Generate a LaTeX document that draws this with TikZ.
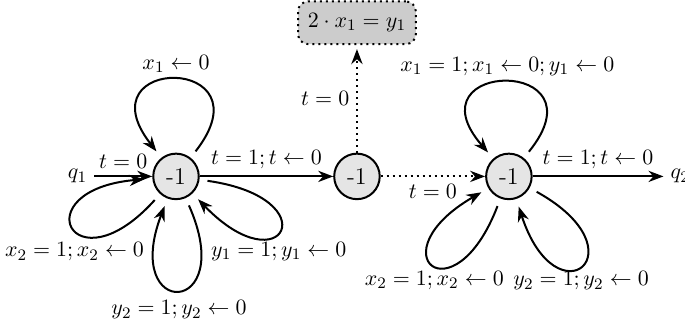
\documentclass[tikz,border=0pt]{standalone}
\usepackage{amsmath,amssymb}
\usepackage{tikz}
\usetikzlibrary{arrows.meta, positioning}

\begin{document}
\begin{tikzpicture}[>=Stealth, font=\fontsize{10.95}{13.6}\selectfont,
		state/.style={circle, draw=black, fill=black!10, line width=1pt, minimum size=0.8cm, inner sep=0pt, font=\fontsize{12}{14}\selectfont},
		guard/.style={rectangle, rounded corners=5pt, draw=black, dotted, line width=1pt, fill=black!20, minimum width=2.07cm, minimum height=0.75cm},
		selfloop/.style={->, line width=1pt, distance=2.3cm, shorten >=4pt, shorten <=4pt}]
		
		\useasboundingbox (-3.093, -2.689) rectangle (8.945, 3.1);
		
		% Estados
		\node[state] (s1) at (0, 0) {-1};
		\node[state] (s2) at (3.18, 0) {-1};
		\node[state] (s3) at (5.85, 0) {-1};
		\node (q1) at (-1.73, 0) {$q_1$};
		\node (q2) at (8.86, 0) {$q_2$};
		
		% Restricao
		\node[guard] (eq) at (3.18, 2.7) {$2 \cdot x_1 = y_1$};
		
		% Arestas
		\draw[->, line width=1pt] (q1) -- node[above] {$t = 0$} (s1);
		\draw[->, line width=1pt] (s1) -- node[above] {$t = 1; t \leftarrow 0$} (s2);
		\draw[->, line width=1pt, dotted] (s2) -- node[below] {$t = 0$} (s3);
		\draw[->, line width=1pt, dotted, shorten >=2pt] (s2) -- node[left] {$t = 0$} (eq);
		\draw[->, line width=1pt] (s3) -- node[above] {$t = 1; t \leftarrow 0$} (q2);
		
		% Lacos de s1
		\draw[selfloop] (s1) to[out=52, in=128] node[above] {$x_1 \leftarrow 0$} (s1);
		\draw[selfloop] (s1) to[out=228, in=185] node[below=4pt] {$x_2 = 1; x_2 \leftarrow 0$} (s1);
		\draw[selfloop] (s1) to[out=294, in=249] node[below=2pt] {$y_2 = 1; y_2 \leftarrow 0$} (s1);
		\draw[selfloop] (s1) to[out=352, in=314] node[below=3pt] {$y_1 = 1; y_1 \leftarrow 0$} (s1);
		
		% Lacos de s3
		\draw[selfloop] (s3) to[out=51, in=131] node[above] {$x_1 = 1; x_1 \leftarrow 0; y_1 \leftarrow 0$} (s3);
		\draw[selfloop] (s3) to[out=249, in=210] node[below] {$x_2 = 1; x_2 \leftarrow 0$} (s3);
		\draw[selfloop] (s3) to[out=331, in=288] node[below] {$y_2 = 1; y_2 \leftarrow 0$} (s3);
		
	\end{tikzpicture}
\end{document}
